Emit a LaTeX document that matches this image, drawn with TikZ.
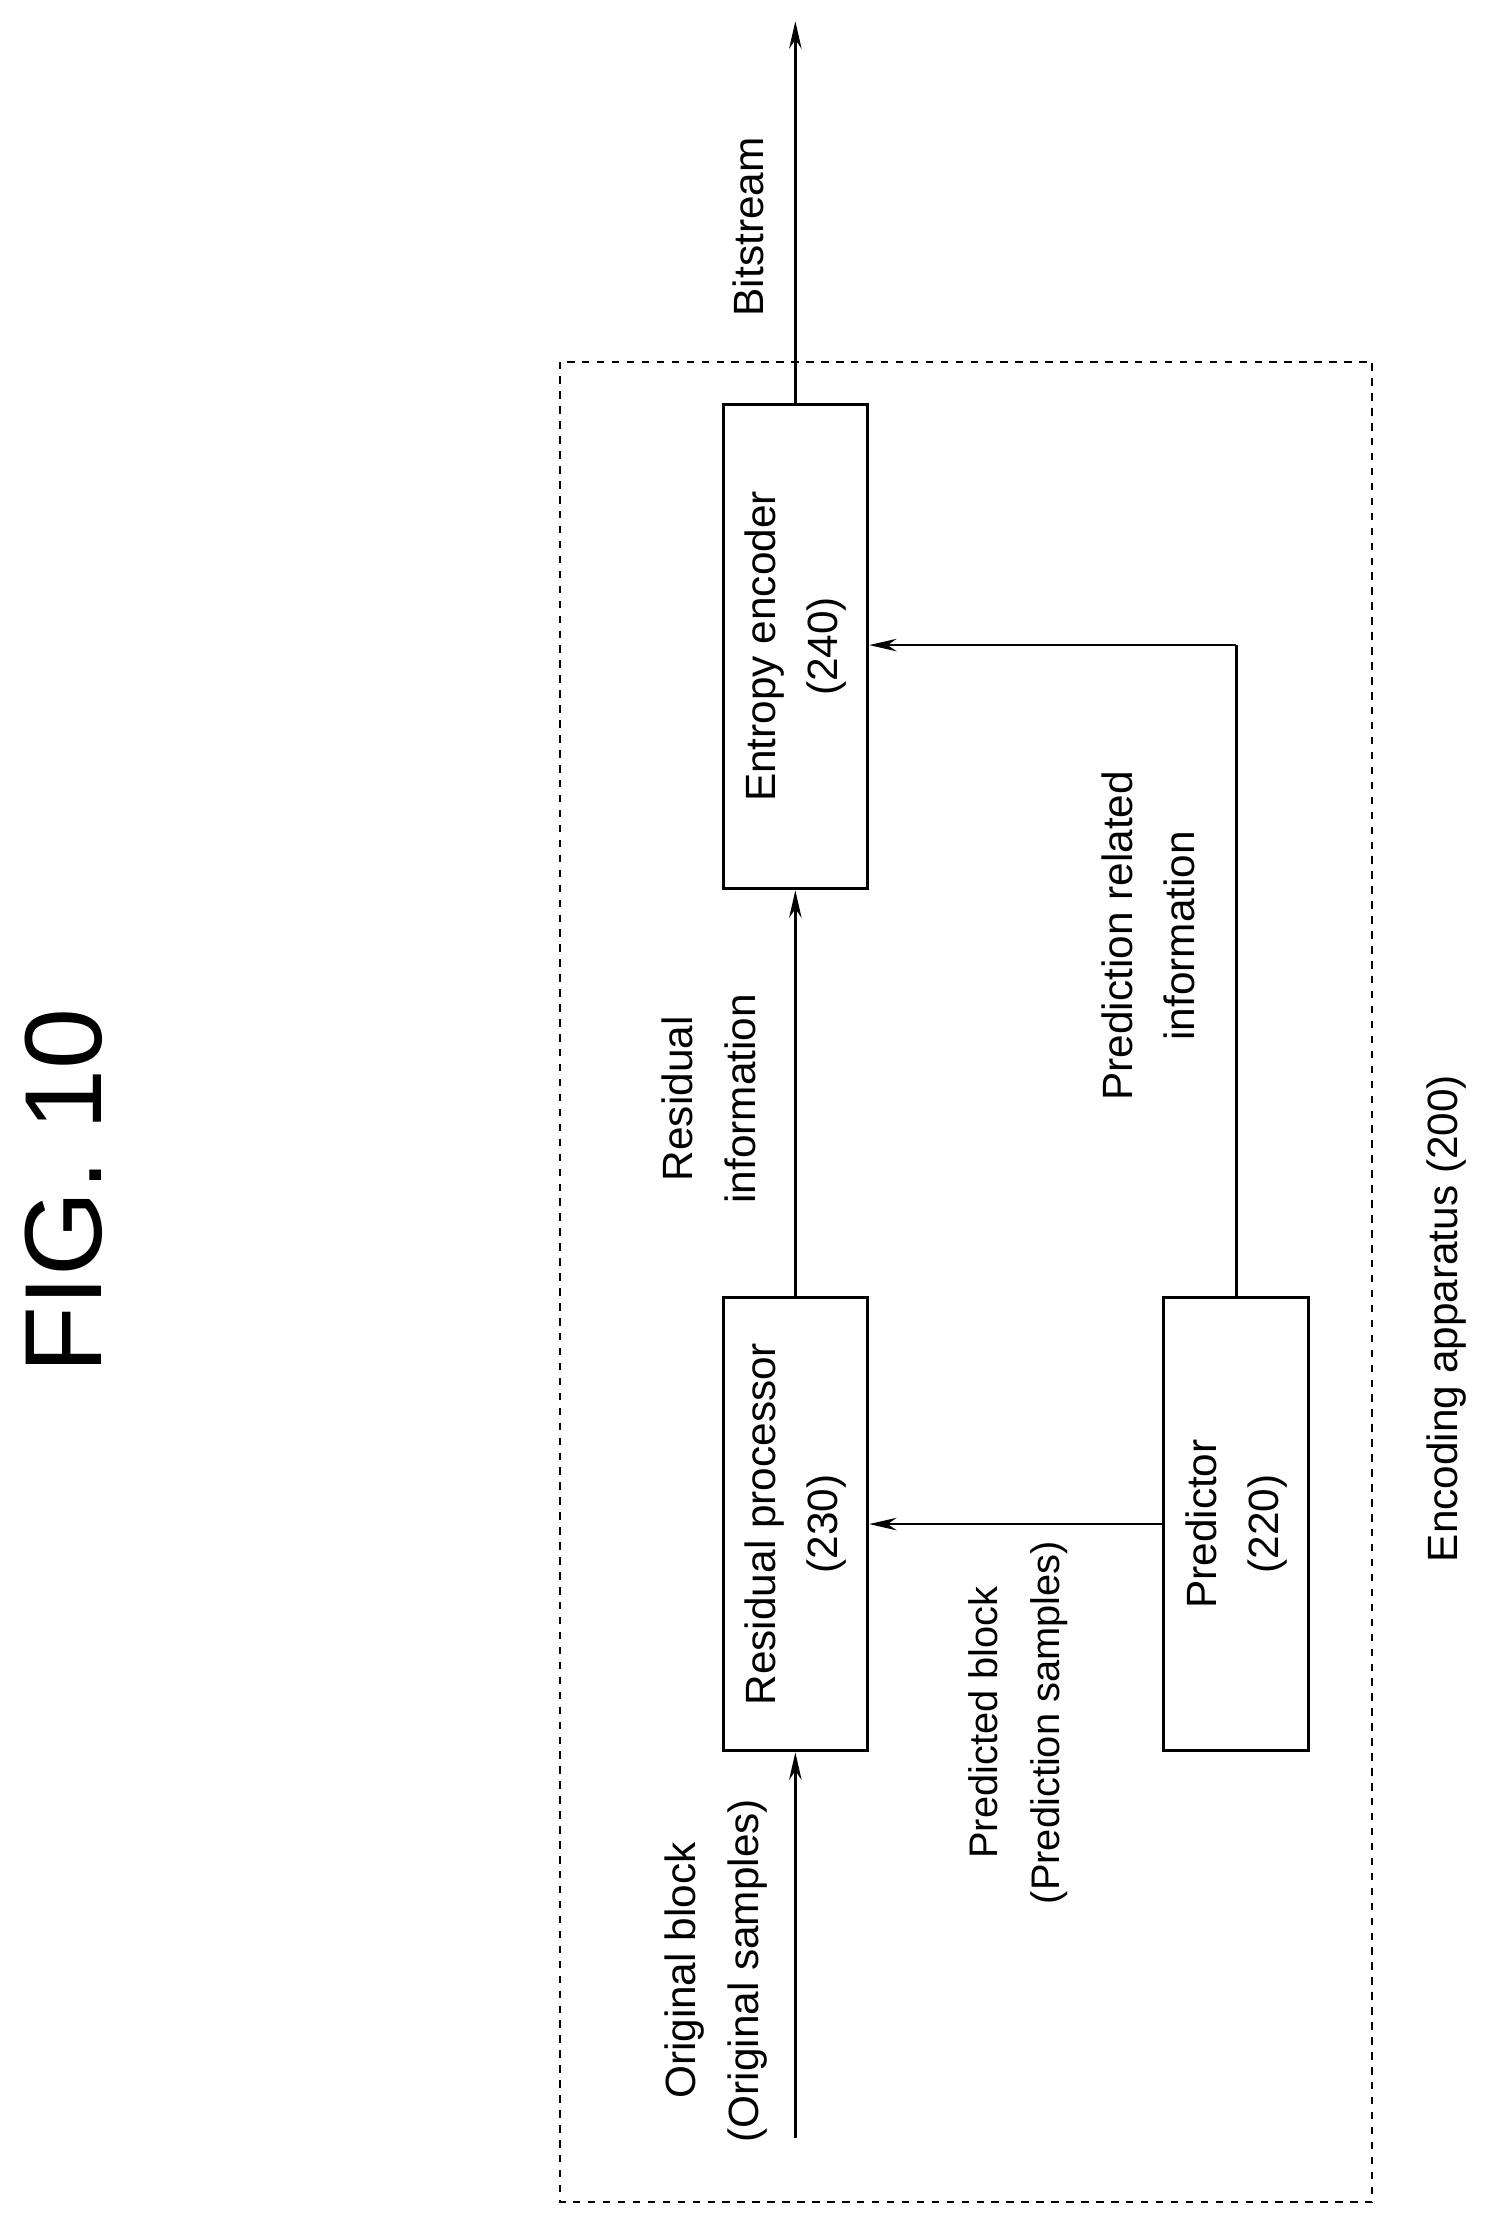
\documentclass[tikz,border=0pt]{standalone}
\usepackage{fontspec}
\setmainfont{Liberation Sans}
\usetikzlibrary{arrows.meta,positioning}
\tikzset{
  blk/.style={draw, line width=1.2pt, rotate=90, minimum width=320*0.02cm, minimum height=102*0.02cm, align=center, inner sep=0pt},
  lbl/.style={rotate=90, align=center, inner sep=0pt},
  flow/.style={line width=1.1pt, -{Stealth[length=11pt,width=5pt]}}
}
\begin{document}
\begin{tikzpicture}[x=0.02cm,y=-0.02cm,font=\fontsize{17}{25}\selectfont]
  \useasboundingbox (0,0) rectangle (1050,1568);
  \node[lbl,font=\fontsize{44}{50}\selectfont] (fig) at (45,840) {FIG. 10};
  \draw[dashed,line width=0.8pt] (395,255) rectangle (968,1553);
  \node[blk] (res) at (561,1075) {Residual processor\\(230)};
  \node[blk,minimum width=342*0.02cm] (ent) at (561,456) {Entropy encoder\\(240)};
  \node[blk] (pred) at (872,1075) {Predictor\\(220)};
  \coordinate (in) at (561,1508);
  \coordinate (out) at (561,15);
  \coordinate (bend) at (872,455);
  \draw[flow] (in) -- (res.west);
  \draw[flow] (res.east) -- (ent.west);
  \draw[flow] (ent.east) -- (out);
  \draw[flow] (pred.north) -- (res.south |- pred.north);
  \draw[line width=1.1pt] (pred.east) -- (bend);
  \draw[flow] (bend) -- (ent.south |- bend);
  \node[lbl] (lorig) at (505,1390) {Original block\\(Original samples)};
  \node[lbl] (lres) at (500,775) {Residual\\information};
  \node[lbl] (lbit) at (528,160) {Bitstream};
  \node[lbl,font=\fontsize{16}{25}\selectfont] (lpb) at (718,1215) {Predicted block\\(Prediction samples)};
  \node[lbl] (lpri) at (810,660) {Prediction related\\information};
  \node[lbl] (lenc) at (1020,930) {Encoding apparatus (200)};
\end{tikzpicture}
\end{document}
